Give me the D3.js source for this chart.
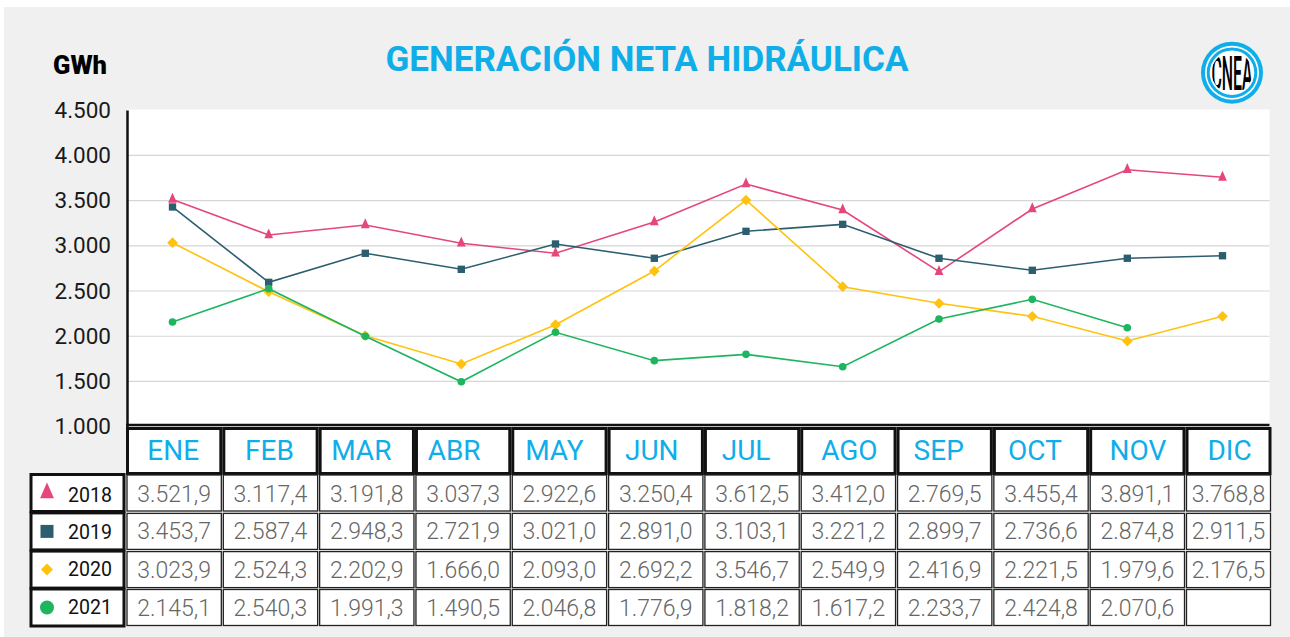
<!DOCTYPE html>
<html><head><meta charset="utf-8">
<script src="https://cdn.jsdelivr.net/npm/d3@7"></script>
<style>html,body{margin:0;padding:0;background:#fff}svg{display:block}text{font-family:Roboto,sans-serif}</style>
</head><body><svg id="c" width="1290" height="637"></svg>
<script>
const title = "GENERACIÓN NETA HIDRÁULICA";
const unit = "GWh";
const months = ["ENE","FEB","MAR","ABR","MAY","JUN","JUL","AGO","SEP","OCT","NOV","DIC"];
const yTicks = [1000,1500,2000,2500,3000,3500,4000,4500];
const years = ["2018","2019","2020","2021"];
// values
const line2018 = [3512,3119,3230,3028,2917,3263,3683,3396,2714,3407,3841,3757];
const line2019 = [3429,2596,2917,2740,3020,2862,3160,3237,2862,2729,2862,2890];
const line2020 = [3034,2492,2006,1693,2127,2721,3506,2548,2364,2220,1947,2220];
const line2021 = [2157,2526,2000,1497,2044,1730,1800,1663,2191,2408,2094,null];
// values printed in the table
const table2018 = ["3.521,9","3.117,4","3.191,8","3.037,3","2.922,6","3.250,4","3.612,5","3.412,0","2.769,5","3.455,4","3.891,1","3.768,8"];
const table2019 = ["3.453,7","2.587,4","2.948,3","2.721,9","3.021,0","2.891,0","3.103,1","3.221,2","2.899,7","2.736,6","2.874,8","2.911,5"];
const table2020 = ["3.023,9","2.524,3","2.202,9","1.666,0","2.093,0","2.692,2","3.546,7","2.549,9","2.416,9","2.221,5","1.979,6","2.176,5"];
const table2021 = ["2.145,1","2.540,3","1.991,3","1.490,5","2.046,8","1.776,9","1.818,2","1.617,2","2.233,7","2.424,8","2.070,6",""];
const lines = [line2018,line2019,line2020,line2021];
const tables = [table2018,table2019,table2020,table2021];
const colors = ["#E5467C","#2B5F70","#FFC20E","#1DB55F"];
const shapes = [d3.symbolTriangle,d3.symbolSquare,d3.symbolSquare,d3.symbolCircle];
const sizes = [52,54,58,46];
const legendSizes = [130,169,72,154];
const markerTransform = ["scale(.8,1.05)","","rotate(45)",""];

const svg = d3.select("#c");
svg.append("rect").attr("x",4).attr("y",7).attr("width",1286).attr("height",630).attr("fill","#f0f0f0");

const plotL=127, plotR=1269.5, plotT=109.5, plotB=426.7;
svg.append("rect").attr("x",plotL).attr("y",plotT).attr("width",plotR-plotL).attr("height",plotB-plotT).attr("fill","#fff");

// the source's category slots are not evenly spaced
const slotCentres = [172.5,268.7,365.3,461.3,555.5,654.3,746,842.7,939,1032.3,1127.3,1222.5];
const x = d3.scaleOrdinal().domain(months).range(slotCentres);
const y = d3.scaleLinear().domain([1000,4500]).range([plotB,110.1]);
const fmt = d3.formatLocale({decimal:",",thousands:".",grouping:[3],currency:["",""]}).format(",d");

// gridlines
svg.append("g").selectAll("line").data(yTicks.filter(d=>d>1000&&d<4500)).join("line")
  .attr("x1",plotL).attr("x2",plotR).attr("y1",d=>y(d)).attr("y2",d=>y(d))
  .attr("stroke","#d6d6d6").attr("stroke-width",1.2);

// y axis
const ax = svg.append("g").attr("transform",`translate(${plotL},0)`)
  .call(d3.axisLeft(y).tickValues(yTicks).tickFormat(fmt).tickSize(0).tickPadding(16));
ax.select(".domain").attr("stroke","#111").attr("stroke-width",2.5);
ax.selectAll("text").attr("font-size",22.5).attr("fill","#1a1a1a").style("font-family","Roboto,sans-serif");
svg.append("line").attr("x1",plotL-1).attr("x2",plotR).attr("y1",425).attr("y2",425).attr("stroke","#111").attr("stroke-width",2.5);

// lines + markers
const lineGen = d3.line().defined(d=>d!=null).x((d,i)=>x(months[i])).y(d=>y(d));
lines.forEach((vals,k)=>{
  svg.append("path").attr("d",lineGen(vals)).attr("fill","none").attr("stroke",colors[k]).attr("stroke-width",1.6);
  svg.append("g").selectAll("path").data(vals.map((v,i)=>({v,i})).filter(d=>d.v!=null)).join("path")
    .attr("d",d3.symbol().type(shapes[k]).size(sizes[k]))
    .attr("transform",d=>`translate(${x(months[d.i])},${y(d.v)}) ${markerTransform[k]}`)
    .attr("fill",colors[k]);
});

// title + unit
svg.append("text").attr("x",647).attr("y",71).attr("text-anchor","middle").attr("font-size",35).attr("font-weight",700)
  .attr("fill","#0FAEE9").text(title);
svg.append("text").attr("x",53).attr("y",74).attr("font-size",25.5).attr("font-weight",900).attr("fill","#000").text(unit);

// logo
const logo = svg.append("g").attr("transform","translate(1232,72.7)");
logo.append("circle").attr("r",31).attr("fill","#0FAEE9");
logo.append("circle").attr("r",27).attr("fill","#fff");
logo.append("circle").attr("r",25.3).attr("fill","#0FAEE9");
logo.append("circle").attr("r",22.3).attr("fill","#fff");
svg.append("clipPath").attr("id","logoClip").append("circle").attr("r",20.5);
logo.append("g").attr("clip-path","url(#logoClip)").append("text").attr("text-anchor","middle").attr("y",17).attr("font-size",48).attr("font-weight",500)
  .attr("transform","scale(0.33,1)").attr("fill","#000").text("CNEA");

// table
const col = d3.scaleLinear().domain([0,11]).range([126,1185.5]);
const colL = i=>col(i), colR = i=> i===11?1269.5:col(i+1)-2;
const labelShift = [0,0,-4.5,-8,-4,-3,-5,2,-5,-5,1.5,2];
const rowT = [475,513.4,551.6,589.5], rowH = [36,36,36,36];
const rowBase = [502,538.5,577.7,615.7], legendBase = [501.7,539,576,613.5];
svg.append("g").selectAll("rect").data(months).join("rect")
  .attr("x",(d,i)=>colL(i)+1.5).attr("y",428.5).attr("width",(d,i)=>colR(i)-colL(i)-1).attr("height",45)
  .attr("fill","#fff").attr("stroke","#111").attr("stroke-width",3);
svg.append("g").selectAll("text").data(months).join("text")
  .attr("x",(d,i)=>(colL(i)+colR(i))/2+labelShift[i]).attr("y",459.5).attr("text-anchor","middle").attr("font-size",28).attr("fill","#0FAEE9").text(d=>d);

tables.forEach((row,k)=>{
  const g = svg.append("g");
  g.selectAll("rect").data(row).join("rect")
    .attr("x",(d,i)=>colL(i)+1).attr("y",rowT[k]).attr("width",(d,i)=>colR(i)-colL(i)).attr("height",rowH[k])
    .attr("fill","#fff").attr("stroke","#222").attr("stroke-width",1.3);
  g.selectAll("text").data(row).join("text")
    .attr("x",(d,i)=>(colL(i)+colR(i))/2+1).attr("y",rowBase[k]).attr("text-anchor","middle")
    .attr("font-size",23).attr("font-weight",300).attr("fill","#666").text(d=>d);
  // legend
  svg.append("rect").attr("x",31).attr("y",rowT[k]-0.5).attr("width",93).attr("height",rowH[k]+1)
    .attr("fill","#fff").attr("stroke","#111").attr("stroke-width",3);
  svg.append("path").attr("d",d3.symbol().type(shapes[k]).size(legendSizes[k]))
    .attr("transform",`translate(47,${rowT[k]+18}) ${markerTransform[k]}`).attr("fill",colors[k]);
  svg.append("text").attr("x",68).attr("y",legendBase[k]).attr("font-size",21).attr("textLength",44).attr("lengthAdjust","spacingAndGlyphs").attr("font-weight",400).attr("fill","#111").text(years[k]);
});
</script></body></html>
